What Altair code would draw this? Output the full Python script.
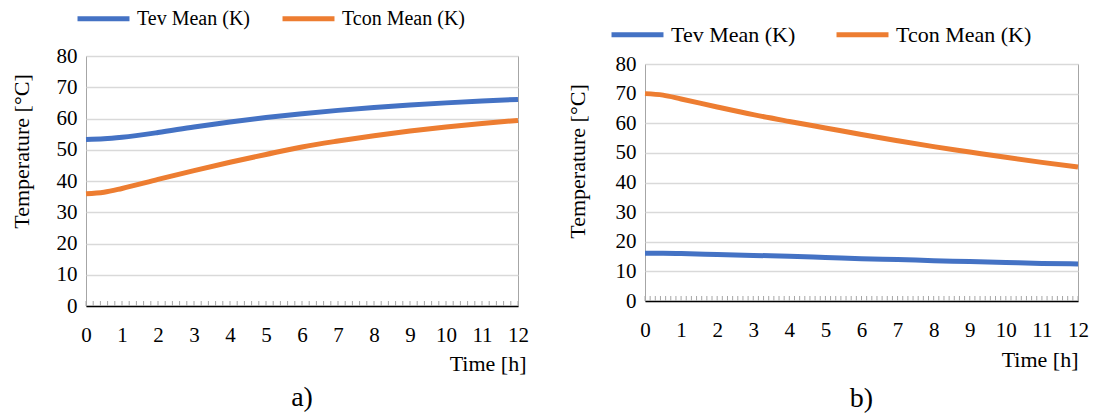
import altair as alt
import pandas as pd
import numpy as np

FONT = "Liberation Serif, Times New Roman, serif"

# Hourly readings of the mean evaporator / condenser temperatures
hours = [0, 0.5, 1, 2, 3, 4, 5, 6, 7, 8, 9, 10, 11, 12]
tev_a = [53.3, 53.5, 54.0, 55.5, 57.3, 58.9, 60.3, 61.5, 62.6, 63.5, 64.3, 65.0, 65.6, 66.1]
tcon_a = [35.9, 36.4, 37.6, 40.5, 43.3, 46.0, 48.5, 50.9, 52.8, 54.5, 56.0, 57.3, 58.4, 59.4]
tev_b = [16.1, 16.1, 16.0, 15.7, 15.4, 15.1, 14.7, 14.3, 14.0, 13.6, 13.3, 13.0, 12.7, 12.5]
tcon_b = [70.0, 69.5, 68.2, 65.5, 62.9, 60.6, 58.4, 56.2, 54.1, 52.1, 50.3, 48.5, 46.8, 45.2]

series_names = ["Tev Mean (K)", "Tcon Mean (K)"]
series_colors = ["#4472C4", "#ED7D31"]
x_labels = list(range(0, 13))
y_ticks = list(range(0, 81, 10))


def long_table(tev, tcon):
    return pd.DataFrame({
        "t": hours * 2,
        "v": tev + tcon,
        "series": [series_names[0]] * len(hours) + [series_names[1]] * len(hours),
    })


def panel(tev, tcon, caption, w, h, minor_per_hour, leg_x, leg_y, leg_font,
          leg_gap, ytitle_x, ytitle_y, xtitle_x, xtitle_y, cap_offset):
    x_scale = alt.Scale(domain=[0, 12], nice=False, zero=False)
    x_axis = alt.Axis(
        values=x_labels, tickSize=0, grid=False, labelOverlap=False,
        labelFlush=False, labelPadding=18, labelFont=FONT, labelFontSize=21,
        labelColor="black", domainColor="black", domainWidth=1.5,
        title="Time [h]", titleFont=FONT, titleFontSize=22,
        titleFontWeight="normal", titleColor="black", titleAlign="right",
        titleBaseline="middle", titleX=xtitle_x, titleY=xtitle_y)
    lines = alt.Chart(long_table(tev, tcon)).mark_line(
        strokeWidth=5, interpolate="monotone"
    ).encode(
        x=alt.X("t:Q", scale=x_scale, axis=x_axis),
        y=alt.Y("v:Q", scale=alt.Scale(domain=[0, 80], nice=False), axis=alt.Axis(
            values=y_ticks, tickSize=0, domain=False, grid=True,
            gridColor="#d9d9d9", gridWidth=1.5, labelPadding=9, labelFont=FONT,
            labelFontSize=21, labelColor="black",
            title="Temperature [°C]", titleFont=FONT, titleFontSize=22,
            titleFontWeight="normal", titleColor="black", titleAngle=270,
            titleAlign="center", titleBaseline="middle",
            titleX=ytitle_x, titleY=ytitle_y)),
        color=alt.Color("series:N", sort=series_names,
                        scale=alt.Scale(domain=series_names, range=series_colors),
                        legend=alt.Legend(
                            orient="none", legendX=leg_x, legendY=leg_y,
                            direction="horizontal", title=None,
                            symbolType="stroke", symbolStrokeWidth=5,
                            symbolSize=2700, labelFont=FONT,
                            labelFontSize=leg_font, labelColor="black",
                            labelOffset=5, columnPadding=leg_gap)),
    )
    # small inward ticks along the time axis
    minor = pd.DataFrame({"t": np.arange(0, 12 * minor_per_hour + 1) / minor_per_hour})
    ticks = alt.Chart(minor).mark_rule(color="#a6a6a6", strokeWidth=1).encode(
        x=alt.X("t:Q", scale=x_scale, axis=x_axis),
        y=alt.value(h - 5),
        y2=alt.value(h),
    )
    return alt.layer(lines, ticks).properties(
        width=w, height=h,
        title=alt.TitleParams(caption, orient="bottom", anchor="middle",
                              font=FONT, fontSize=28, fontWeight="normal",
                              color="black", offset=cap_offset),
    )


left = panel(tev_a, tcon_a, "a)", 432, 250, 5, -11, -66, 20, 22, -65, 95, 440, 57, 10)
right = panel(tev_b, tcon_b, "b)", 433, 237, 7, -36, -50, 22, 30, -68, 97, 433, 58, 15)

spacer = alt.Chart(pd.DataFrame({"a": [0]})).mark_point(opacity=0).properties(
    width=433, height=8, view=alt.ViewBackground(strokeOpacity=0)
)
right_col = alt.vconcat(spacer, right, spacing=0, bounds="flush")

chart = alt.hconcat(left, right_col, spacing=127, bounds="flush").resolve_scale(
    color="independent"
).resolve_legend(color="independent").properties(
    padding={"left": 9, "top": -11, "right": 0, "bottom": 0},
    background="white",
).configure_view(stroke="#a6a6a6", strokeWidth=1)

chart.save("out.html", embed_options={"renderer": "svg", "actions": False})
